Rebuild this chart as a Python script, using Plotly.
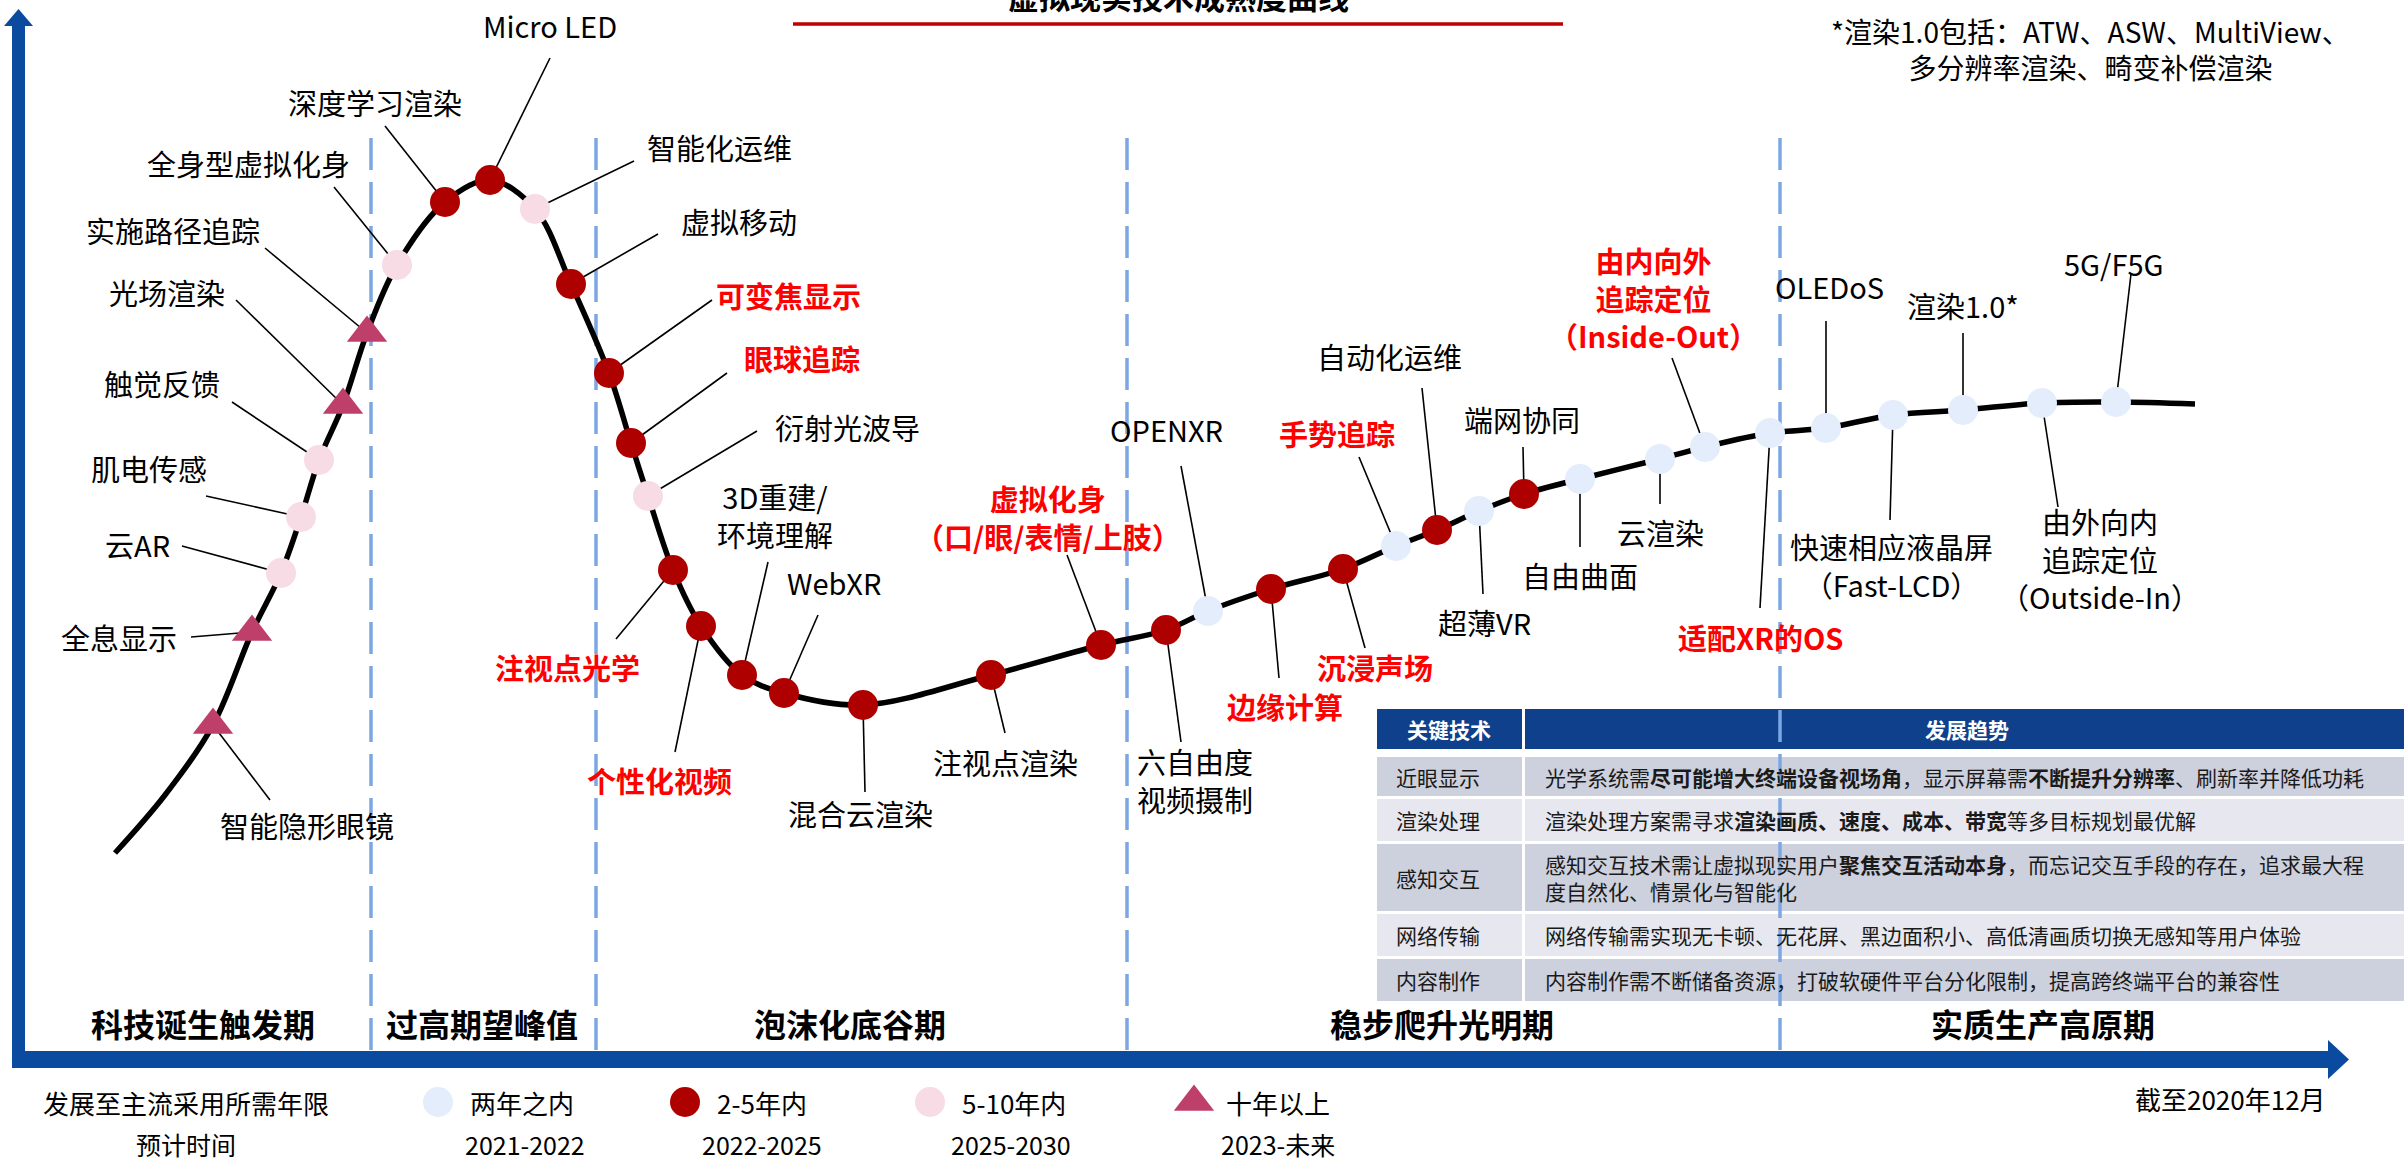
import plotly.graph_objects as go

FONT = "Noto Sans CJK SC, Noto Sans, sans-serif"
W, H = 2404, 1162

# ---------------------------------------------------------------------------
# Technologies on the VR hype curve (canvas units: x to the right, y downward)
# ---------------------------------------------------------------------------
tech_names = [
    "智能隐形眼镜", "全息显示", "云AR", "肌电传感", "触觉反馈", "光场渲染", "实施路径追踪",
    "全身型虚拟化身", "深度学习渲染", "Micro LED", "智能化运维", "虚拟移动", "可变焦显示",
    "眼球追踪", "衍射光波导", "注视点光学", "个性化视频", "3D重建/\n环境理解", "WebXR",
    "混合云渲染", "注视点渲染", "虚拟化身\n（口/眼/表情/上肢）", "六自由度\n视频摄制", "OPENXR",
    "边缘计算", "沉浸声场", "手势追踪", "自动化运维", "超薄VR", "端网协同", "自由曲面",
    "云渲染", "由内向外\n追踪定位\n（Inside-Out）", "适配XR的OS", "OLEDoS",
    "快速相应液晶屏\n（Fast-LCD）", "渲染1.0*", "由外向内\n追踪定位\n（Outside-In）", "5G/F5G",
]
tech_x = [213, 252, 281, 301, 319, 343, 367, 397, 445, 490, 535, 571, 609, 631, 648, 673,
          701, 742, 784, 863, 991, 1101, 1166, 1208, 1271, 1343, 1396, 1437, 1479, 1524,
          1580, 1660, 1705, 1770, 1826, 1893, 1963, 2042, 2116]
tech_y = [725, 632, 573, 517, 460, 405, 333, 265, 202, 180, 209, 284, 373, 443, 496, 570,
          626, 675, 693, 705, 675, 645, 630, 611, 589, 569, 546, 530, 511, 494,
          479, 459, 447, 433, 428, 415, 410, 403, 402]
tech_stage = ["10+", "10+", "5-10", "5-10", "5-10", "10+", "10+", "5-10", "2-5", "2-5",
              "5-10", "2-5", "2-5", "2-5", "5-10", "2-5", "2-5", "2-5", "2-5", "2-5",
              "2-5", "2-5", "2-5", "<2", "2-5", "2-5", "<2", "2-5", "<2", "2-5",
              "<2", "<2", "<2", "<2", "<2", "<2", "<2", "<2", "<2"]
# technologies highlighted in red
highlighted = ["可变焦显示", "眼球追踪", "注视点光学", "个性化视频", "虚拟化身\n（口/眼/表情/上肢）",
               "边缘计算", "沉浸声场", "手势追踪", "由内向外\n追踪定位\n（Inside-Out）", "适配XR的OS"]

# the curve's tail ends (beyond the first / last technology)
curve_head_x, curve_head_y = [115, 165], [853, 795]
curve_tail_x, curve_tail_y = [2195], [404]

# phases of the cycle and their boundaries
phase_names = ["科技诞生触发期", "过高期望峰值", "泡沫化底谷期", "稳步爬升光明期", "实质生产高原期"]
phase_bounds = [371, 596, 1127, 1780]

# legend: years to mainstream adoption
stage_keys = ["<2", "2-5", "5-10", "10+"]
stage_labels = ["两年之内", "2-5年内", "5-10年内", "十年以上"]
stage_periods = ["2021-2022", "2022-2025", "2025-2030", "2023-未来"]

# key-technology table
table_header = ["关键技术", "发展趋势"]
table_keys = ["近眼显示", "渲染处理", "感知交互", "网络传输", "内容制作"]
table_trends = [
    "光学系统需<b>尽可能增大终端设备视场角</b>，显示屏幕需<b>不断提升分辨率</b>、刷新率并降低功耗",
    "渲染处理方案需寻求<b>渲染画质、速度、成本、带宽</b>等多目标规划最优解",
    "感知交互技术需让虚拟现实用户<b>聚焦交互活动本身</b>，而忘记交互手段的存在，追求最大程<br>度自然化、情景化与智能化",
    "网络传输需实现无卡顿、无花屏、黑边面积小、高低清画质切换无感知等用户体验",
    "内容制作需不断储备资源，打破软硬件平台分化限制，提高跨终端平台的兼容性",
]

# ---------------------------------------------------------------------------
# Styling / layout
# ---------------------------------------------------------------------------
STAGE_STYLE = {
    "<2": dict(symbol="circle", color="#E3EDFB", size=30),
    "2-5": dict(symbol="circle", color="#AF0000", size=30),
    "5-10": dict(symbol="circle", color="#F7DCE5", size=30),
    "10+": dict(symbol="triangle-up", color="#BE406A", size=35),
}
AXIS_BLUE = "#0A4A9F"
DASH_BLUE = "#7DA7E3"
RED_TEXT = "#FF0000"

# label placement: text centre (cx, cy) and the leader-line start (lx, ly)
LABEL_POS = {
    "智能隐形眼镜": (307, 825, 270, 800),
    "全息显示": (119, 637, 191, 637),
    "云AR": (137, 544, 182, 546),
    "肌电传感": (149, 468, 206, 496),
    "触觉反馈": (162, 383, 232, 402),
    "光场渲染": (167, 292, 236, 300),
    "实施路径追踪": (173, 230, 265, 248),
    "全身型虚拟化身": (248, 163, 334, 187),
    "深度学习渲染": (375, 102, 385, 126),
    "Micro LED": (550, 25, 550, 58),
    "智能化运维": (719, 147, 634, 161),
    "虚拟移动": (739, 221, 658, 234),
    "可变焦显示": (788, 295, 712, 300),
    "眼球追踪": (802, 358, 727, 373),
    "衍射光波导": (847, 427, 757, 431),
    "注视点光学": (567, 667, 616, 639),
    "个性化视频": (659, 780, 675, 752),
    "3D重建/\n环境理解": (775, 515, 768, 562),
    "WebXR": (834, 582, 818, 615),
    "混合云渲染": (860, 813, 865, 792),
    "注视点渲染": (1005, 762, 1005, 733),
    "虚拟化身\n（口/眼/表情/上肢）": (1048, 517, 1067, 555),
    "六自由度\n视频摄制": (1195, 780, 1181, 742),
    "OPENXR": (1166, 429, 1181, 466),
    "边缘计算": (1285, 706, 1279, 678),
    "沉浸声场": (1375, 667, 1365, 648),
    "手势追踪": (1337, 433, 1359, 457),
    "自动化运维": (1389, 356, 1422, 388),
    "超薄VR": (1484, 622, 1483, 594),
    "端网协同": (1522, 419, 1523, 447),
    "自由曲面": (1580, 575, 1580, 547),
    "云渲染": (1660, 532, 1660, 504),
    "由内向外\n追踪定位\n（Inside-Out）": (1653, 297, 1672, 358),
    "适配XR的OS": (1760, 637, 1760, 608),
    "OLEDoS": (1829, 286, 1826, 321),
    "快速相应液晶屏\n（Fast-LCD）": (1891, 565, 1890, 520),
    "渲染1.0*": (1963, 305, 1963, 333),
    "由外向内\n追踪定位\n（Outside-In）": (2100, 558, 2058, 507),
    "5G/F5G": (2114, 263, 2131, 274),
}
LABEL_SIZE = 29

fig = go.Figure()

# leader lines from each label to its technology
lead_x, lead_y = [], []
for name, x, y in zip(tech_names, tech_x, tech_y):
    _, _, lx, ly = LABEL_POS[name]
    lead_x += [lx, x, None]
    lead_y += [ly, y, None]
fig.add_trace(go.Scatter(x=lead_x, y=lead_y, mode="lines",
                         line=dict(color="black", width=1.6), hoverinfo="skip"))

# the hype curve itself
fig.add_trace(go.Scatter(
    x=curve_head_x + tech_x + curve_tail_x,
    y=curve_head_y + tech_y + curve_tail_y,
    mode="lines", line=dict(color="black", width=5.5, shape="spline", smoothing=1.0),
    hoverinfo="skip"))

# technology markers, one trace per adoption stage
for key in stage_keys:
    st = STAGE_STYLE[key]
    xs = [x for x, s in zip(tech_x, tech_stage) if s == key]
    ys = [y for y, s in zip(tech_y, tech_stage) if s == key]
    fig.add_trace(go.Scatter(x=xs, y=ys, mode="markers",
                             marker=dict(symbol=st["symbol"], color=st["color"],
                                         size=st["size"], line=dict(width=0)),
                             hoverinfo="skip"))

annotations = []


def add_text(x, y, text, size, color="black", xanchor="center", xref="x", yref="y"):
    annotations.append(dict(x=x, y=y, xref=xref, yref=yref, text=text, showarrow=False,
                            xanchor=xanchor, yanchor="middle",
                            align="left" if xanchor == "left" else "center",
                            font=dict(family=FONT, size=size, color=color)))


# technology labels
for name in tech_names:
    cx, cy, _, _ = LABEL_POS[name]
    red = name in highlighted
    lines = [f"<b>{s}</b>" if red else s for s in name.split("\n")]
    add_text(cx, cy, "<br>".join(lines), LABEL_SIZE, RED_TEXT if red else "black")

# title (partly above the canvas) and its rule
add_text(1178, 1 + 5 / H, "<b>虚拟现实技术成熟度曲线</b>", 31, xref="x", yref="paper")
add_text(2090, 49, "*渲染1.0包括：ATW、ASW、MultiView、<br>多分辨率渲染、畸变补偿渲染", 28)

shapes = []

# key-technology table
COL1 = (1377, 1522)
COL2 = (1525, W)
HEAD_ROW = (709, 749)
ROWS = [(757, 796), (799, 841), (844, 911), (914, 956), (959, 1001)]
ROW_FILL = ["#CDD0DD", "#E7E8EF", "#CDD0DD", "#E7E8EF", "#CDD0DD"]
for c in (COL1, COL2):
    shapes.append(dict(type="rect", x0=c[0], x1=c[1], y0=HEAD_ROW[0], y1=HEAD_ROW[1],
                       fillcolor="#0E408C", line=dict(width=0), layer="below"))
for (r0, r1), fill in zip(ROWS, ROW_FILL):
    for c in (COL1, COL2):
        shapes.append(dict(type="rect", x0=c[0], x1=c[1], y0=r0, y1=r1,
                           fillcolor=fill, line=dict(width=0), layer="below"))
add_text(1449, 729, f"<b>{table_header[0]}</b>", 21, "white")
add_text(1967, 729, f"<b>{table_header[1]}</b>", 21, "white")
for (r0, r1), k, t in zip(ROWS, table_keys, table_trends):
    add_text(1394, (r0 + r1) / 2, k, 21, "#1A1A1A", xanchor="left")
    add_text(1543, (r0 + r1) / 2, t, 21, "#1A1A1A", xanchor="left")

# phase boundaries
for bx in phase_bounds:
    shapes.append(dict(type="line", x0=bx, x1=bx, y0=138, y1=1050,
                       line=dict(color=DASH_BLUE, width=3.5, dash="32px,12px"), layer="below"))

# phase names
for name, px in zip(phase_names, [203, 482, 850, 1442, 2043]):
    add_text(px, 1023, f"<b>{name}</b>", 32)

# axes with arrow heads
shapes += [
    dict(type="rect", x0=12, x1=25, y0=24, y1=1068, fillcolor=AXIS_BLUE, line=dict(width=0)),
    dict(type="path", path="M 4 26 L 18.5 9 L 33 26 Z", fillcolor=AXIS_BLUE, line=dict(width=0)),
    dict(type="rect", x0=12, x1=2330, y0=1051, y1=1068, fillcolor=AXIS_BLUE, line=dict(width=0)),
    dict(type="path", path="M 2328 1040 L 2349 1059.5 L 2328 1079 Z",
         fillcolor=AXIS_BLUE, line=dict(width=0)),
    dict(type="line", x0=793, x1=1563, y0=24, y1=24, line=dict(color="#C00000", width=3.5)),
]

# legend for the adoption stages
LEG_X = [438, 685, 930, 1194]
LEG_Y = 1102
for key, lx, lab, per, px in zip(stage_keys, LEG_X, stage_labels, stage_periods,
                                 [525, 762, 1011, 1278]):
    st = STAGE_STYLE[key]
    fig.add_trace(go.Scatter(x=[lx], y=[LEG_Y], mode="markers",
                             marker=dict(symbol=st["symbol"], color=st["color"],
                                         size=st["size"], line=dict(width=0)),
                             hoverinfo="skip"))
    add_text(lx + 30, LEG_Y, lab, 26, xanchor="left")
    add_text(px, 1144, per, 25)
add_text(186, 1102, "发展至主流采用所需年限", 26)
add_text(186, 1144, "预计时间", 25)
add_text(2230, 1098, "截至2020年12月", 26)

fig.update_layout(
    width=W, height=H,
    margin=dict(l=0, r=0, t=0, b=0),
    paper_bgcolor="white", plot_bgcolor="white",
    showlegend=False,
    xaxis=dict(range=[0, W], visible=False, fixedrange=True),
    yaxis=dict(range=[H, 0], visible=False, fixedrange=True),
    shapes=shapes,
    annotations=annotations,
)

fig.write_html("out.html")
